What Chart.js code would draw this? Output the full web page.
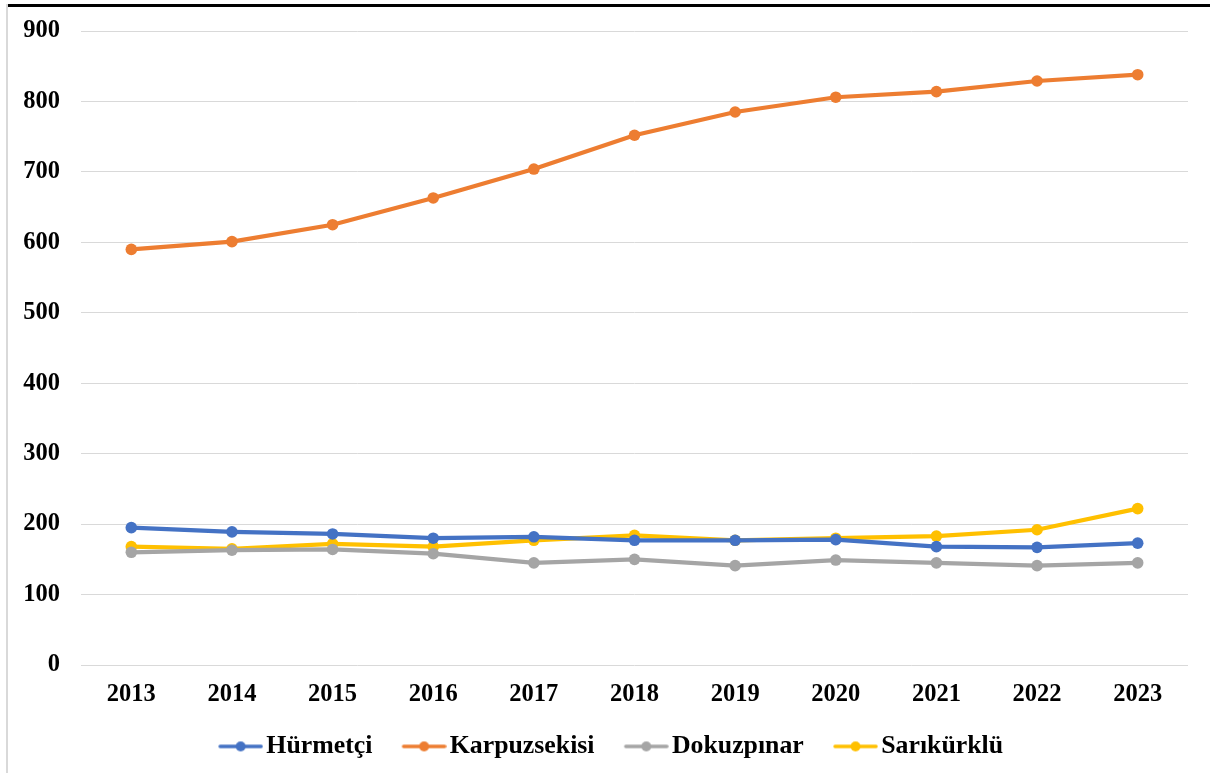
<!DOCTYPE html>
<html>
<head>
<meta charset="utf-8">
<script src="https://cdn.jsdelivr.net/npm/chart.js@4"></script>
<style>
html,body{margin:0;padding:0;background:#fff;width:1210px;height:773px;overflow:hidden;}
#wrap{position:absolute;left:0;top:0;width:1210px;height:773px;}
#topline{position:absolute;left:6px;top:4px;width:1204px;height:3px;background:#000;}
#leftline{position:absolute;left:6px;top:4px;width:2px;height:769px;background:#d9d9d9;}
canvas{position:absolute;left:0;top:0;}
</style>
</head>
<body>
<div id="wrap">
<canvas id="c" width="1210" height="773"></canvas>
<div id="topline"></div>
<div id="leftline"></div>
</div>
<script>
const years = ['2013','2014','2015','2016','2017','2018','2019','2020','2021','2022','2023'];
const hurmetci = [195, 189, 186, 180, 182, 177, 177, 178, 168, 167, 173];
const karpuzsekisi = [590, 601, 625, 663, 704, 752, 785, 806, 814, 829, 838];
const dokuzpinar = [160, 163, 164, 158, 145, 150, 141, 149, 145, 141, 145];
const sarikurklu = [168, 165, 172, 168, 177, 184, 177, 180, 183, 192, 222];
const seriesNames = ['Hürmetçi', 'Karpuzsekisi', 'Dokuzpınar', 'Sarıkürklü'];
const colors = ['#4472C4', '#ED7D31', '#A5A5A5', '#FFC000'];
const yTicks = [0, 100, 200, 300, 400, 500, 600, 700, 800, 900];

// legend icon: line with a dot, drawn in the right part of a wider canvas
function legendIcon(color){
  const c = document.createElement('canvas');
  c.width = 70; c.height = 14;
  const x = c.getContext('2d');
  x.strokeStyle = color; x.lineWidth = 3.5; x.lineCap = 'round';
  x.beginPath(); x.moveTo(27,7); x.lineTo(68,7); x.stroke();
  x.fillStyle = color; x.beginPath(); x.arc(47.5,7,5,0,Math.PI*2); x.fill();
  return c;
}
const icons = colors.map(legendIcon);

const tickFont = {family: '"Liberation Serif", "Times New Roman", serif', size: 24.5, weight: 'bold'};
const legendFont = {family: '"Liberation Serif", "Times New Roman", serif', size: 25.8, weight: 'bold'};
const allData = [hurmetci, karpuzsekisi, dokuzpinar, sarikurklu];

new Chart(document.getElementById('c'), {
  type: 'line',
  data: {
    labels: years,
    datasets: seriesNames.map((n, i) => ({
      label: n,
      data: allData[i],
      borderColor: colors[i],
      backgroundColor: colors[i],
      borderWidth: 4.2,
      pointRadius: 5.8,
      pointBackgroundColor: colors[i],
      pointBorderWidth: 0,
      pointStyle: 'circle',
      tension: 0
    }))
  },
  options: {
    responsive: false,
    animation: false,
    devicePixelRatio: 1,
    layout: {padding: {left: 18, right: 22, top: 31, bottom: 3.7}},
    plugins: {
      tooltip: {enabled: false},
      legend: {
        position: 'bottom',
        labels: {
          font: legendFont,
          color: '#000',
          usePointStyle: true,
          pointStyleWidth: 50.5,
          padding: 14,
          generateLabels(chart){
            return chart.data.datasets.map((d, i) => ({
              text: d.label,
              pointStyle: icons[i],
              fillStyle: colors[i],
              strokeStyle: colors[i],
              lineWidth: 0,
              hidden: false,
              datasetIndex: i,
              fontColor: '#000'
            }));
          }
        }
      }
    },
    scales: {
      x: {
        offset: true,
        grid: {display: false, drawTicks: false},
        border: {display: false},
        ticks: {font: tickFont, color: '#000', padding: 15, maxRotation: 0},
        afterFit(s){ s.height = 54.5; }
      },
      y: {
        min: 0, max: 900,
        afterBuildTicks(s){ s.ticks = yTicks.map(v => ({value: v})); },
        grid: {color: '#d9d9d9', lineWidth: 1, drawTicks: false},
        border: {display: false},
        ticks: {font: tickFont, color: '#000', padding: 21},
        afterFit(s){ s.width = 63; s.paddingTop = 0; s.paddingBottom = 0; }
      }
    }
  }
});
</script>
</body>
</html>
